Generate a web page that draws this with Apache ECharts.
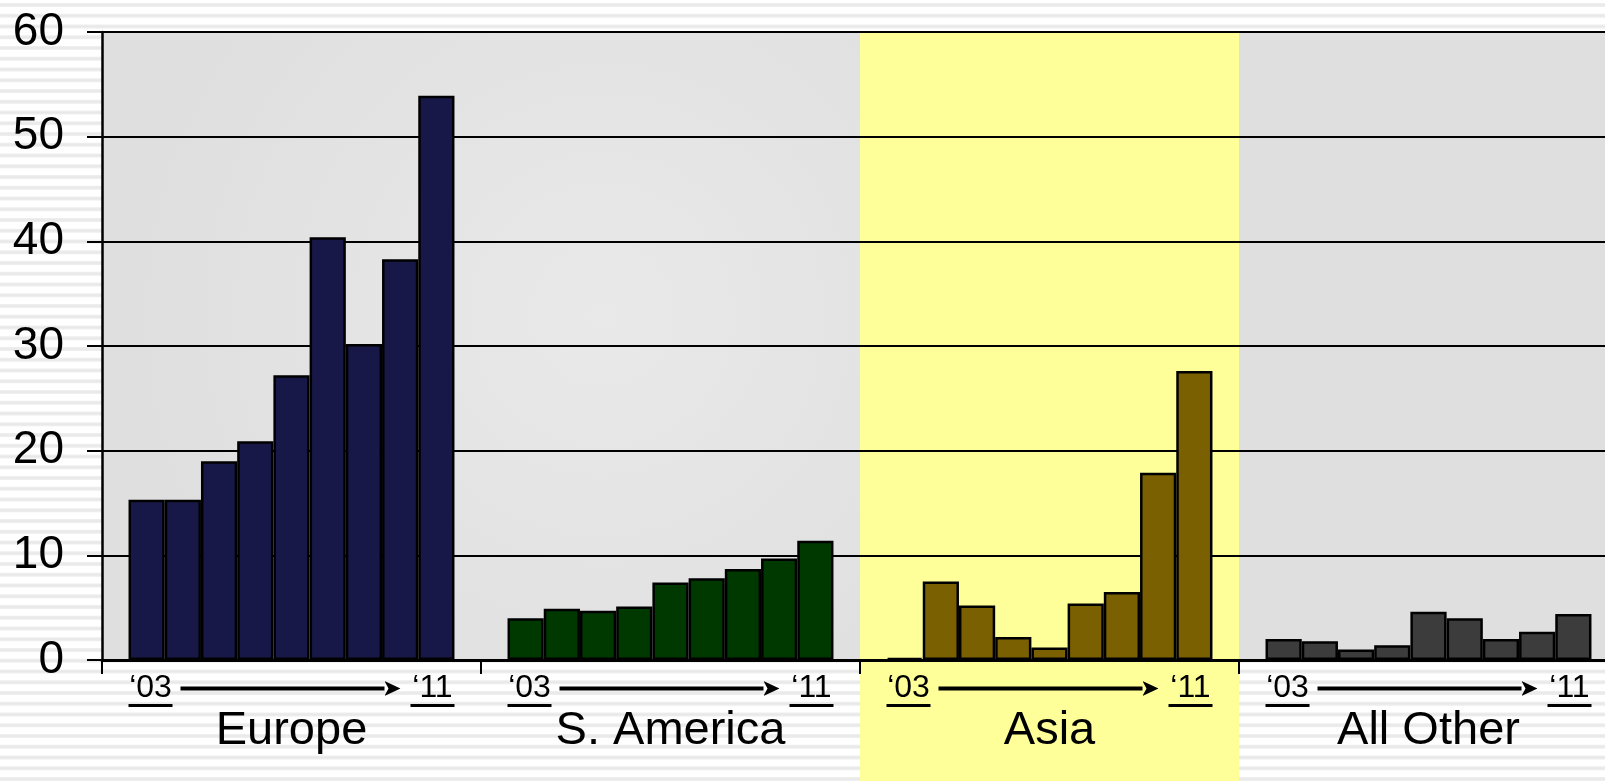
<!DOCTYPE html>
<html>
<head>
<meta charset="utf-8">
<title>Regional totals 2003–2011</title>
<script src="https://cdn.jsdelivr.net/npm/echarts@6/dist/echarts.min.js"></script>
<style>
  html, body { margin: 0; padding: 0; }
  body {
    width: 1605px; height: 781px; overflow: hidden;
    background: repeating-linear-gradient(180deg,
      #ffffff 0px, #ffffff 2.5px, #eeeeee 3.5px, #e8e8e8 5px,
      #eeeeee 6.5px, #ffffff 7.5px, #ffffff 10.75px);
  }
  #chart { width: 1605px; height: 781px; }
</style>
</head>
<body>
<div id="chart"></div>
<script>
// Regions (x categories) and the years inside each region group
const regions = ['Europe', 'S. America', 'Asia', 'All Other'];
const years = ['2003', '2004', '2005', '2006', '2007', '2008', '2009', '2010', '2011'];
const firstYearLabel = '\u201803';
const lastYearLabel = '\u201811';

// Values per region, 2003 → 2011
const europe   = [15.3, 15.3, 19.0, 20.9, 27.2, 40.4, 30.2, 38.3, 53.9];
const sAmerica = [4.0, 4.9, 4.7, 5.1, 7.4, 7.8, 8.7, 9.7, 11.4];
const asia     = [0.2, 7.5, 5.2, 2.2, 1.2, 5.4, 6.5, 17.9, 27.6];
const allOther = [2.0, 1.8, 1.0, 1.4, 4.6, 4.0, 2.0, 2.7, 4.4];

// Y axis ticks
const yTicks = [0, 10, 20, 30, 40, 50, 60];

const regionValues = [europe, sAmerica, asia, allOther];
const regionColors = ['#181848', '#003900', '#7a6000', '#3c3c3c'];
const highlightRegion = 'Asia';

const FONT = '"Liberation Sans", Arial, sans-serif';

const arrowHead = 'data:image/svg+xml;charset=utf-8,' + encodeURIComponent(
  "<svg xmlns='http://www.w3.org/2000/svg' width='16' height='15' viewBox='0 0 16 15'>" +
  "<path d='M0 0 L16 7.5 L0 15 L4 7.5 Z' fill='#000000'/></svg>");

const series = years.map((y, i) => ({
  type: 'bar',
  name: y,
  data: regionValues.map(r => r[i]),
  barGap: '0%',
  barCategoryGap: '14%',
  z: 3,
  itemStyle: {
    color: p => regionColors[p.dataIndex],
    borderColor: '#000000',
    borderWidth: 2.5
  }
}));

const chart = echarts.init(document.getElementById('chart'), null, { renderer: 'canvas' });

chart.setOption({
  animation: false,
  backgroundColor: 'transparent',
  grid: {
    left: 102, top: 32, width: 1516, height: 628,
    outerBoundsMode: 'none',
    containLabel: false,
    show: true, z: 0,
    borderWidth: 0,
    backgroundColor: {
      type: 'radial', x: 0.33, y: 0.45, r: 0.75,
      colorStops: [
        { offset: 0, color: '#e9e9e9' },
        { offset: 1, color: '#dfdfdf' }
      ]
    }
  },
  xAxis: {
    type: 'category',
    data: regions,
    z: 2,
    axisLine: { lineStyle: { color: '#000', width: 3 } },
    axisTick: { show: true, length: 14, lineStyle: { color: '#000', width: 2 } },
    splitLine: { show: false },
    axisLabel: {
      interval: 0,
      margin: 13,
      fontSize: 10,
      lineHeight: 3,
      color: '#000',
      fontFamily: FONT,
      formatter: name =>
        '{yr|' + firstYearLabel + '}{sp1|}{shaft|}{head|}{sp2|}{yr|' + lastYearLabel + '}\n' +
        '{ul|}{mid|}{ul|}\n' +
        '{name|' + name + '}',
      rich: {
        yr: { fontSize: 32, fontFamily: FONT, color: '#000', lineHeight: 31, width: 44, align: 'center' },
        sp1: { width: 8, lineHeight: 31 },
        shaft: { width: 204, height: 4, lineHeight: 31, backgroundColor: '#000' },
        head: { width: 16, height: 15, lineHeight: 31, backgroundColor: { image: arrowHead } },
        sp2: { width: 10, lineHeight: 31 },
        ul: { width: 44, height: 3, lineHeight: 3, backgroundColor: '#000' },
        mid: { width: 238, height: 3, lineHeight: 3 },
        name: { fontSize: 47, fontFamily: FONT, color: '#000', lineHeight: 48 }
      }
    }
  },
  yAxis: {
    type: 'value',
    min: yTicks[0],
    max: yTicks[yTicks.length - 1],
    interval: yTicks[1] - yTicks[0],
    z: 2,
    axisLine: { show: true, lineStyle: { color: '#000', width: 2.5 } },
    axisTick: { show: true, length: 15, lineStyle: { color: '#000', width: 2 } },
    splitLine: { show: true, lineStyle: { color: '#000', width: 2 } },
    axisLabel: { fontSize: 46, fontFamily: FONT, color: '#000', margin: 38 }
  },
  tooltip: { show: false },
  series: series
});

// Highlight band behind the Asia group, from the top of the plot to the bottom of the page
const cx = chart.convertToPixel({ xAxisIndex: 0 }, highlightRegion);
const bandW = Math.abs(chart.convertToPixel({ xAxisIndex: 0 }, regions[3]) - cx);
const topY = chart.convertToPixel({ yAxisIndex: 0 }, yTicks[yTicks.length - 1]);
chart.setOption({
  graphic: [{
    type: 'rect',
    silent: true,
    z: 1,
    shape: { x: cx - bandW / 2, y: topY + 1, width: bandW, height: chart.getHeight() - topY },
    style: { fill: '#ffff99' }
  }]
});
</script>
</body>
</html>
